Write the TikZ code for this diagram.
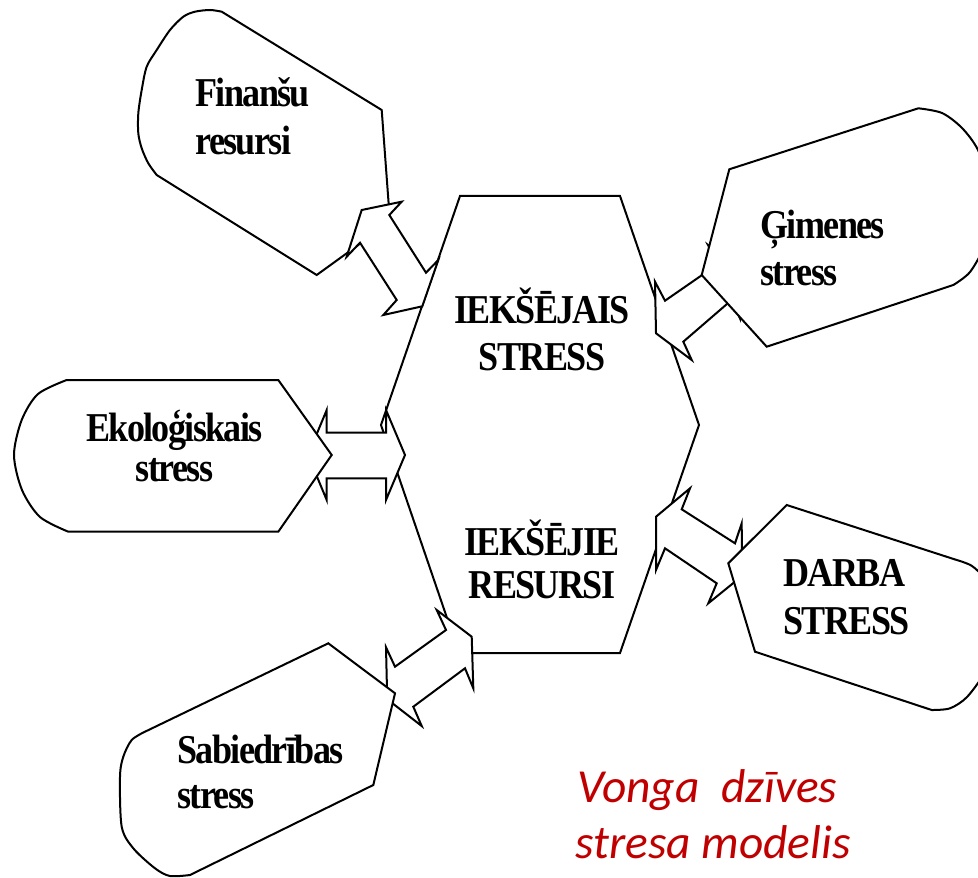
\documentclass[tikz,border=0pt]{standalone}
\usepackage{fontspec}
\newfontfamily\lblfont{Liberation Serif}[FakeStretch=0.88,LetterSpace=-4]
\newfontfamily\capfont{Carlito}
\definecolor{vred}{RGB}{192,0,0}
\begin{document}
\begin{tikzpicture}[x=0.5pt,y=-0.5pt,
  shp/.style={draw=black,fill=white,line width=1pt,line join=miter},
  lbl/.style={font=\lblfont\bfseries\fontsize{20.5}{24}\selectfont,inner sep=0pt},
  captxt/.style={font=\capfont\itshape\fontsize{23.7}{28}\selectfont,text=vred,inner sep=0pt}]
\useasboundingbox (0,0) rectangle (978,877);
\clip (0,0) rectangle (978,877);
% central hexagon
\path[shp] (460,196) -- (620,196) -- (699,425) -- (620,653) -- (459,653) -- (381,425) -- cycle;
% arrows drawn under their callouts
\path[shp] (308,455) -- (326.7,410) -- (326.7,432.7) -- (386,432.7) -- (386,410) -- (405,455)
  -- (386,500) -- (386,478.3) -- (326.7,478.3) -- (326.7,500) -- cycle;
\path[shp] (656,333.3) -- (655,281.7) -- (665,300.7) -- (718,264) -- (708,245) -- (741,270)
  -- (740,318.5) -- (731.6,300) -- (683.3,341.7) -- (691.7,360) -- cycle;
\path[shp] (656,516.7) -- (690,488.3) -- (681.7,509.3) -- (735,543.3) -- (741.7,523.3) -- (742,576)
  -- (708.3,603.3) -- (716.7,583.3) -- (665,548.3) -- (656,570) -- cycle;
\path[shp] (471.7,636.7) -- (473.3,688.3) -- (465,668.3) -- (413.3,706.7) -- (421.7,726) -- (387.2,699.2)
  -- (386,647.3) -- (395,666.7) -- (446,630) -- (436.7,610) -- cycle;
% callouts
\path[shp] (66.7,380) -- (278.3,380) -- (331.7,455) -- (278.3,531.7) -- (68.3,531.7)
  -- plot[smooth] coordinates {(68.3,531.7) (40,517) (22,490) (14,455) (21.7,420) (38,394) (66.7,380)} -- cycle;
\path[shp] (729.3,169.3) -- (918.3,108.3)
  -- plot[smooth] coordinates {(918.3,108.3) (942,113) (962,128) (978,150) (990,185) (992,215) (985,245) (970,272) (953.3,285)}
  -- (766.7,346.7) -- (701.7,275) -- cycle;
\path[shp] (786.7,505) -- (956.7,560)
  -- plot[smooth] coordinates {(956.7,560) (972,566) (985,580) (995,610) (995,645) (985,672) (967,697) (950,708.3) (931.7,710)}
  -- (755,651.7) -- (728.3,563.3) -- cycle;
\path[shp] (145,731.7) -- (328.3,643.3) -- (395,693.3) -- (373.3,785) -- (190,875)
  -- plot[smooth] coordinates {(190,875) (170,876) (155,868.3) (133.3,848.3) (121.7,826.7) (120,776.7) (123.3,756.7) (131.7,740) (145,731.7)} -- cycle;
% Finansu callout, arrow on top of it
\path[shp] (221.7,11.7) -- (381.7,110) -- (390,222) -- (316.7,275) -- (156.7,175)
  -- plot[smooth] coordinates {(156.7,175) (148.3,163.3) (141.7,148.3) (138.3,133.3) (138.3,113.3) (141.7,90) (146.7,66.7) (156.7,50) (170,30) (183.3,16.7) (195,11.7) (210,10) (221.7,11.7)} -- cycle;
\path[shp] (361.7,210) -- (401.7,201.7) -- (389.3,215) -- (426,272.7) -- (438.3,260) -- (422.3,306.3)
  -- (383.3,315) -- (396.7,300) -- (360,242.7) -- (346.7,256.7) -- cycle;
% texts
\node[lbl,anchor=base west] (fin1) at (195,107) {Finanšu};
\node[lbl,anchor=base west] (fin2) at (195,155) {resursi};
\node[lbl,anchor=base west] (gim1) at (760,238) {Ģimenes};
\node[lbl,anchor=base west] (gim2) at (760,285) {stress};
\node[lbl,anchor=base] (iek1) at (542,323) {IEKŠĒJAIS};
\node[lbl,anchor=base] (iek2) at (542,370) {STRESS};
\node[lbl,anchor=base] (eko1) at (174.5,441) {Ekoloģiskais};
\node[lbl,anchor=base] (eko2) at (174.5,481) {stress};
\node[lbl,anchor=base] (res1) at (542,555) {IEKŠĒJIE};
\node[lbl,anchor=base] (res2) at (542,598) {RESURSI};
\node[lbl,anchor=base west] (dar1) at (783,586) {DARBA};
\node[lbl,anchor=base west] (dar2) at (783,634) {STRESS};
\node[lbl,anchor=base west] (sab1) at (177,763) {Sabiedrības};
\node[lbl,anchor=base west] (sab2) at (177,808) {stress};
\node[captxt,anchor=base west] (von1) at (577,802) {Vonga\ \ dzīves};
\node[captxt,anchor=base west] (von2) at (575,858) {stresa modelis};
\end{tikzpicture}
\end{document}
